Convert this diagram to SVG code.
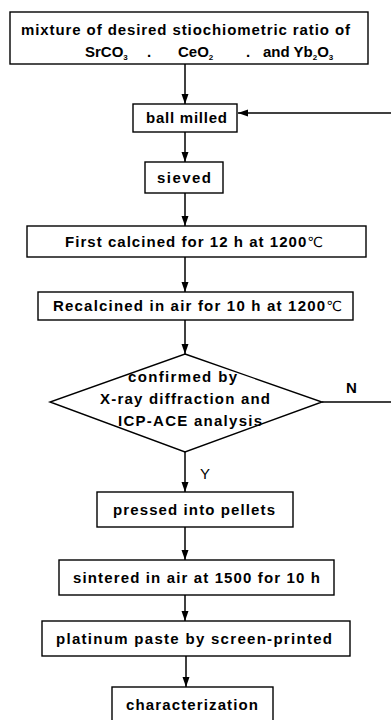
<svg xmlns="http://www.w3.org/2000/svg" width="391" height="720" viewBox="0 0 391 720">
  <defs>
    <marker id="arrow" markerUnits="userSpaceOnUse" markerWidth="11" markerHeight="8" refX="10" refY="3.5" orient="auto">
      <path d="M0,0 L10,3.5 L0,7 z" fill="#000"/>
    </marker>
  </defs>
  <style>
    .box { fill: #fff; stroke: #000; stroke-width: 1.4; }
    .lbl { font-family: "Liberation Sans", Arial, "DejaVu Sans", sans-serif; font-weight: bold; font-size: 15px; fill: #000; }
    .sub { font-size: 8px; }
    .deg { font-weight: normal; font-size: 14px; }
    .edge { stroke: #000; stroke-width: 1.5; fill: none; }
    .arr { marker-end: url(#arrow); }
  </style>
  <rect width="391" height="720" fill="#fff"/>

  <g id="connectors">
    <line class="edge arr" x1="185" y1="64" x2="185" y2="104"/>
    <line class="edge arr" x1="391" y1="113" x2="238" y2="113"/>
    <line class="edge arr" x1="185" y1="132" x2="185" y2="162"/>
    <line class="edge arr" x1="185" y1="193" x2="185" y2="226"/>
    <line class="edge arr" x1="185" y1="257" x2="185" y2="292"/>
    <line class="edge arr" x1="185" y1="320" x2="185" y2="354"/>
    <line class="edge" x1="322" y1="402" x2="391" y2="402"/>
    <line class="edge arr" x1="185" y1="452" x2="185" y2="492"/>
    <line class="edge arr" x1="185" y1="527" x2="185" y2="560"/>
    <line class="edge arr" x1="185" y1="595" x2="185" y2="621"/>
    <line class="edge arr" x1="186" y1="656" x2="186" y2="687"/>
    <text class="lbl" x="346" y="393">N</text>
    <text class="lbl" x="200" y="479" style="font-weight:normal">Y</text>
  </g>

  <g id="mixture">
    <rect class="box" x="10" y="12" width="358" height="52"/>
    <text class="lbl" x="21" y="35" textLength="329" lengthAdjust="spacing">mixture of desired stiochiometric ratio of</text>
    <text class="lbl" x="85" y="57">SrCO<tspan class="sub" dy="3">3</tspan></text>
    <text class="lbl" x="147" y="57">.</text>
    <text class="lbl" x="178" y="57">CeO<tspan class="sub" dy="3">2</tspan></text>
    <text class="lbl" x="246" y="57">.</text>
    <text class="lbl" x="263" y="57">and Yb<tspan class="sub" dy="3">2</tspan><tspan dy="-3">O</tspan><tspan class="sub" dy="3">3</tspan></text>
  </g>

  <g id="ball-milled">
    <rect class="box" x="133" y="104" width="104" height="28"/>
    <text class="lbl" x="146" y="123" textLength="81" lengthAdjust="spacing">ball milled</text>
  </g>

  <g id="sieved">
    <rect class="box" x="145" y="162" width="78" height="31"/>
    <text class="lbl" x="157" y="183" textLength="54" lengthAdjust="spacing">sieved</text>
  </g>

  <g id="first-calcined">
    <rect class="box" x="27" y="226" width="339" height="31"/>
    <text class="lbl" x="65" y="247" textLength="258" lengthAdjust="spacing">First calcined for 12 h at 1200<tspan class="deg">℃</tspan></text>
  </g>

  <g id="recalcined">
    <rect class="box" x="38" y="292" width="315" height="28"/>
    <text class="lbl" x="53" y="311" textLength="289" lengthAdjust="spacing">Recalcined in air for 10 h at 1200<tspan class="deg">℃</tspan></text>
  </g>

  <g id="confirmed">
    <polygon class="box" points="185,354 322,402 185,452 50,402"/>
    <text class="lbl" x="128" y="382" textLength="109" lengthAdjust="spacing">confirmed by</text>
    <text class="lbl" x="100" y="404" textLength="170" lengthAdjust="spacing">X-ray diffraction and</text>
    <text class="lbl" x="118" y="426" textLength="144" lengthAdjust="spacing">ICP-ACE analysis</text>
  </g>

  <g id="pressed">
    <rect class="box" x="97" y="492" width="196" height="35"/>
    <text class="lbl" x="113" y="515" textLength="162" lengthAdjust="spacing">pressed into pellets</text>
  </g>

  <g id="sintered">
    <rect class="box" x="59" y="560" width="275" height="35"/>
    <text class="lbl" x="73" y="583" textLength="247" lengthAdjust="spacing">sintered in air at 1500 for 10 h</text>
  </g>

  <g id="platinum">
    <rect class="box" x="42" y="621" width="308" height="35"/>
    <text class="lbl" x="56" y="644" textLength="276" lengthAdjust="spacing">platinum paste by screen-printed</text>
  </g>

  <g id="characterization">
    <rect class="box" x="112" y="687" width="161" height="36"/>
    <text class="lbl" x="126" y="710" textLength="132" lengthAdjust="spacing">characterization</text>
  </g>
</svg>
